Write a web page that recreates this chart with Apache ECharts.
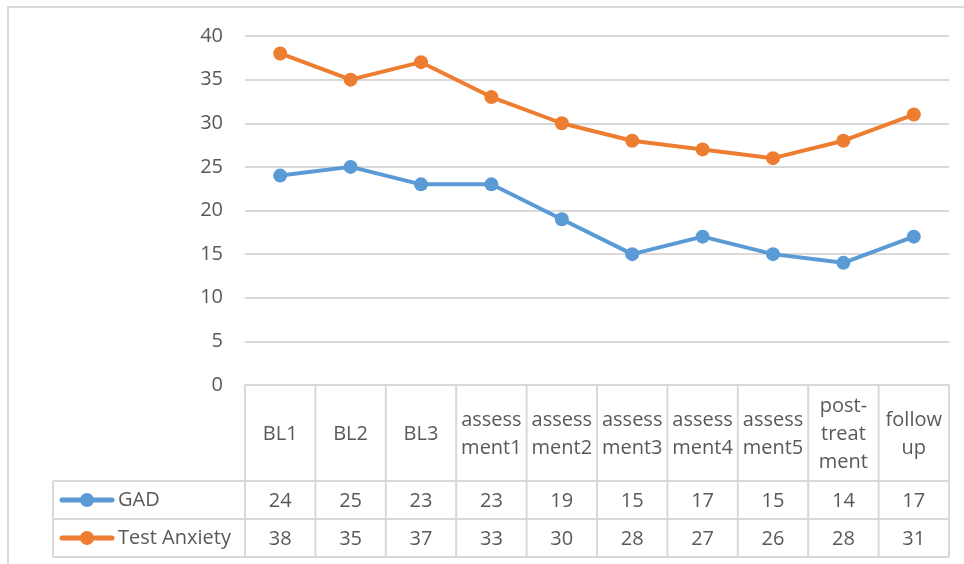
<!DOCTYPE html>
<html>
<head>
<meta charset="utf-8">
<script src="https://cdn.jsdelivr.net/npm/echarts@6/dist/echarts.min.js"></script>
<style>
html,body{margin:0;padding:0;background:#fff;}
#c{width:964px;height:564px;}
</style>
</head>
<body>
<div id="c"></div>
<script>
const categories = ['BL1','BL2','BL3','assess\nment1','assess\nment2','assess\nment3','assess\nment4','assess\nment5','post-\ntreat\nment','follow\nup'];
const seriesNames = ['GAD','Test Anxiety'];
const gad = [24,25,23,23,19,15,17,15,14,17];
const testAnxiety = [38,35,37,33,30,28,27,26,28,31];
const colors = ['#5B9BD5','#ED7D31'];
const FONT = "'Open Sans', 'Noto Sans', sans-serif";
const TXT = '#595959';
const BORDER = '#D9D9D9';

const chart = echarts.init(document.getElementById('c'));
chart.setOption({
  animation:false,
  grid:{left:245,right:15,top:36,bottom:179},
  xAxis:{type:'category',data:categories,boundaryGap:true,
    axisLine:{lineStyle:{color:BORDER,width:2}},axisTick:{show:false},axisLabel:{show:false}},
  yAxis:{type:'value',min:0,max:40,interval:5,
    axisLine:{show:false},axisTick:{show:false},
    axisLabel:{color:TXT,fontSize:20,fontFamily:FONT,margin:22},
    splitLine:{lineStyle:{color:BORDER,width:2}}},
  series:[
    {name:seriesNames[0],type:'line',data:gad,color:colors[0],symbol:'circle',symbolSize:14,
     lineStyle:{width:4},itemStyle:{color:colors[0]}},
    {name:seriesNames[1],type:'line',data:testAnxiety,color:colors[1],symbol:'circle',symbolSize:14,
     lineStyle:{width:4},itemStyle:{color:colors[1]}}
  ]
});

// Build data table below the plot, aligned to the category axis
const c0 = chart.convertToPixel({xAxisIndex:0},0);
const c1 = chart.convertToPixel({xAxisIndex:0},1);
const band = c1 - c0;
const left = c0 - band/2;
const right = left + band*categories.length;
const yTop = chart.convertToPixel({yAxisIndex:0},0);
const headerH = 96, rowH = 38;
const legendLeft = 53;
const rowsTop = yTop + headerH;
const bottom = rowsTop + rowH*2;
const g = [];
const line = (x1,y1,x2,y2)=>g.push({type:'line',shape:{x1,y1,x2,y2},style:{stroke:BORDER,lineWidth:2},silent:true});

// outer chart border
g.push({type:'rect',shape:{x:8,y:7,width:1100,height:1100},style:{fill:null,stroke:BORDER,lineWidth:2},silent:true,z:-1});

// vertical borders
for(let i=0;i<=categories.length;i++){
  const x = left + band*i;
  line(x,yTop,x,bottom);
}
line(legendLeft,rowsTop,legendLeft,bottom);
// horizontal borders
[rowsTop,rowsTop+rowH,bottom].forEach(y=>line(legendLeft,y,right,y));

// header texts
categories.forEach((cat,i)=>{
  g.push({type:'text',x:left+band*(i+0.5),y:yTop+headerH/2+1,silent:true,
    style:{text:cat,fill:TXT,font:'20px '+FONT,align:'center',verticalAlign:'middle',lineHeight:28}});
});
// rows
[gad,testAnxiety].forEach((vals,r)=>{
  const cy = rowsTop + rowH*r + rowH/2;
  // legend symbol
  g.push({type:'line',shape:{x1:62,y1:cy,x2:112,y2:cy},style:{stroke:colors[r],lineWidth:5,lineCap:'round'},silent:true});
  g.push({type:'circle',shape:{cx:87,cy:cy,r:7},style:{fill:colors[r]},silent:true});
  g.push({type:'text',x:118,y:cy,silent:true,
    style:{text:seriesNames[r],fill:TXT,font:'20px '+FONT,align:'left',verticalAlign:'middle'}});
  vals.forEach((v,i)=>{
    g.push({type:'text',x:left+band*(i+0.5),y:cy+1,silent:true,
      style:{text:String(v),fill:TXT,font:'20px '+FONT,align:'center',verticalAlign:'middle'}});
  });
});
chart.setOption({graphic:g});
</script>
</body>
</html>
